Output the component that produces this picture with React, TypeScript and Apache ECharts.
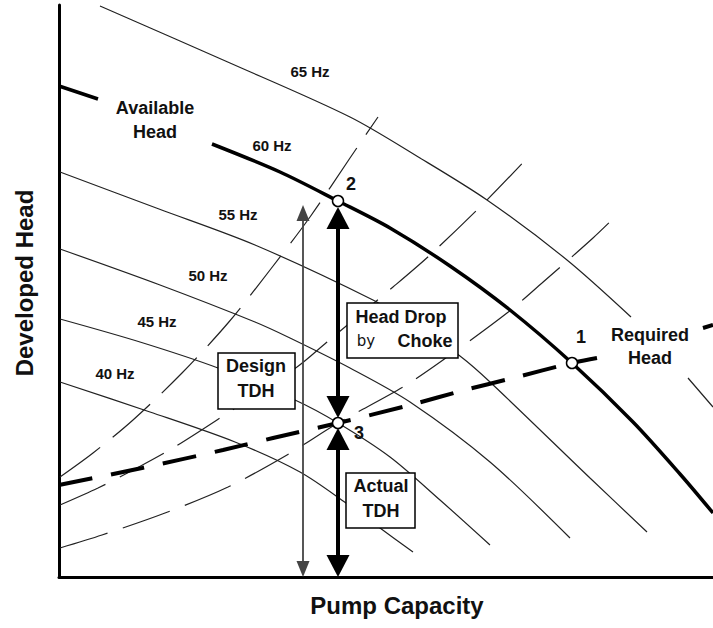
import { useEffect, useRef } from "react";
import * as echarts from "echarts";

// Pump capacity (x) and developed head (y) in arbitrary chart units
const hz65: (number | null)[][] = [[41, 571], [171, 514], [291, 460], [361, 419], [428, 377], [508, 317], [572, 260], [600, null], [629, 199], [654, 170]];
const hz60: (number | null)[][] = [[0, 491], [39, 478], [96, null], [153, 433], [221, 405], [279, 376], [331, 349], [391, 311], [451, 267], [513, 214], [574, 155], [621, 103], [654, 64]];
const hz55 = [[1, 405], [100, 368], [196, 332], [314, 277], [356, 252], [401, 221], [431, 195], [531, 99], [588, 45]];
const hz50 = [[1, 328], [101, 292], [196, 255], [231, 239], [291, 209], [351, 175], [431, 115], [511, 39]];
const hz45 = [[1, 258], [81, 235], [159, 209], [236, 177], [279, 154], [331, 120], [381, 77], [431, 32]];
const hz40 = [[1, 195], [91, 165], [176, 135], [241, 105], [287, 74], [321, 49], [354, 25]];
const requiredHead: (number | null)[][] = [[0, 92], [83, 109], [164, 127], [214, 139], [279, 154], [351, 172], [406, 187], [454, 199], [513, 214], [538, 219], [590, null], [644, 249], [654, 252]];
const systemA = [[1, 100], [34, 124], [74, 157], [123, 204], [169, 254], [211, 307], [251, 360], [291, 419], [319, 460]];
const systemB = [[1, 72], [39, 89], [78, 109], [114, 129], [158, 157], [238, 210], [268, 235], [334, 290], [371, 322], [428, 377], [473, 424]];
const systemC = [[1, 29], [43, 42], [106, 64], [169, 90], [228, 122], [279, 154], [344, 190], [384, 217], [448, 264], [483, 294], [534, 339], [558, 362]];

// Operating points
const opPoints = [[279, 376], [279, 154], [513, 214]];
const opLabels = ["2", "3", "1"];

// Vertical arrows: [x, top head, bottom head]
const arrows = [[244, 372, 0], [279, 370, 159], [279, 149, 0]];

const FONT = '"Liberation Sans", Arial, Helvetica, sans-serif';

export default function App() {
  const ref = useRef<HTMLDivElement>(null);
  useEffect(() => {
    if (!ref.current) return;
    const chart = echarts.init(ref.current, undefined, { renderer: "svg" });

    const arrowStyles = [
      { color: "#444", lw: 1.8, w: 13, head: 16 },
      { color: "#000", lw: 4, w: 23, head: 22 },
      { color: "#000", lw: 4, w: 23, head: 22 },
    ];
    const labelOffsets = [[13, -17], [21, 10], [9, -26]];

    const thin = (name: string, data: any[]) => ({
      name, type: "line", data, smooth: 0.3, symbol: "none", connectNulls: false,
      lineStyle: { color: "#222", width: 1.2 }, z: 2, silent: true,
    });
    const dashed = (name: string, data: any[]) => ({
      name, type: "line", data, smooth: 0.3, symbol: "none",
      lineStyle: { color: "#222", width: 1.2, type: [50, 16] }, z: 2, silent: true,
    });

    const hzLabel = (text: string, x: number, y: number) => ({
      type: "text", x, y, z: 12,
      style: { text, font: `bold 15px ${FONT}`, fill: "#111", align: "center", verticalAlign: "middle", textAlign: "center", textVerticalAlign: "middle" },
    });
    const bigLabel = (text: string, x: number, y: number, lh: number, align = "center") => ({
      type: "text", x, y, z: 12,
      style: { text, font: `bold 18px ${FONT}`, fill: "#111", lineHeight: lh, align, verticalAlign: "middle", textAlign: align, textVerticalAlign: "middle" },
    });
    const box = (x: number, y: number, w: number, h: number) => ({
      type: "rect", z: 10, shape: { x, y, width: w, height: h },
      style: { fill: "#fff", stroke: "#000", lineWidth: 1.5 },
    });

    chart.setOption({
      animation: false,
      backgroundColor: "#fff",
      grid: { left: 59, right: 0, top: 5, bottom: 51 },
      xAxis: {
        type: "value", min: 0, max: 654,
        axisLine: { show: true, onZero: false, lineStyle: { color: "#000", width: 3 } },
        axisTick: { show: false }, axisLabel: { show: false }, splitLine: { show: false },
        name: "Pump Capacity", nameLocation: "middle", nameGap: 16,
        nameTextStyle: { fontSize: 24, fontWeight: "bold", color: "#111", fontFamily: FONT, padding: [0, 0, 0, 22] },
      },
      yAxis: {
        type: "value", min: 0, max: 572,
        axisLine: { show: true, onZero: false, lineStyle: { color: "#000", width: 3 } },
        axisTick: { show: false }, axisLabel: { show: false }, splitLine: { show: false },
        name: "Developed Head", nameLocation: "middle", nameGap: 23,
        nameTextStyle: { fontSize: 24, fontWeight: "bold", color: "#111", fontFamily: FONT, padding: [0, 0, 0, 16] },
      },
      series: [
        thin("65 Hz", hz65),
        { ...thin("60 Hz", hz60), lineStyle: { color: "#000", width: 3.5 }, z: 3 },
        thin("55 Hz", hz55),
        thin("50 Hz", hz50),
        thin("45 Hz", hz45),
        thin("40 Hz", hz40),
        dashed("System A", systemA),
        dashed("System B", systemB),
        dashed("System C", systemC),
        {
          name: "Required Head", type: "line", data: requiredHead, smooth: 0.3, symbol: "none",
          lineStyle: { color: "#000", width: 4, type: [34, 19] }, z: 3, silent: true,
        },
        {
          name: "Arrows", type: "custom", data: arrows, encode: { x: 0, y: [1, 2] }, z: 15, silent: true,
          renderItem: (params: any, api: any) => {
            const st = arrowStyles[params.dataIndex];
            const top = api.coord([api.value(0), api.value(1)]);
            const bot = api.coord([api.value(0), api.value(2)]);
            const px = top[0];
            return {
              type: "group",
              children: [
                { type: "line", shape: { x1: px, y1: top[1] + st.head * 0.8, x2: px, y2: bot[1] - st.head * 0.8 }, style: { stroke: st.color, lineWidth: st.lw } },
                { type: "polygon", shape: { points: [[px, top[1]], [px - st.w / 2, top[1] + st.head], [px + st.w / 2, top[1] + st.head]] }, style: { fill: st.color } },
                { type: "polygon", shape: { points: [[px, bot[1]], [px - st.w / 2, bot[1] - st.head], [px + st.w / 2, bot[1] - st.head]] }, style: { fill: st.color } },
              ],
            };
          },
        },
        {
          name: "Operating Points", type: "scatter", z: 20, silent: true,
          symbol: "circle", symbolSize: 11,
          itemStyle: { color: "#fff", borderColor: "#000", borderWidth: 1.5, opacity: 1 },
          data: opPoints.map((p, i) => ({
            value: p,
            label: {
              show: true, formatter: opLabels[i], position: "inside", offset: labelOffsets[i],
              fontSize: 18, fontWeight: "bold", color: "#111", fontFamily: FONT, opacity: 1,
            },
          })),
        },
      ],
      graphic: [
        hzLabel("65 Hz", 310, 71),
        hzLabel("60 Hz", 272, 145),
        hzLabel("55 Hz", 238, 214),
        hzLabel("50 Hz", 208, 275),
        hzLabel("45 Hz", 157, 321),
        hzLabel("40 Hz", 115, 373),
        bigLabel("Available\nHead", 155, 119.5, 24),
        bigLabel("Required\nHead", 650, 346, 23),
        box(218, 353, 77, 56),
        bigLabel("Design\nTDH", 256, 378, 25),
        box(347, 303, 111, 55),
        bigLabel("Head Drop", 401, 317, 20),
        bigLabel("Choke", 425, 341, 20),
        {
          type: "text", x: 366, y: 341, z: 12,
          style: { text: "by", font: `15px "DejaVu Sans", sans-serif`, fill: "#111", align: "center", verticalAlign: "middle", textAlign: "center", textVerticalAlign: "middle" },
        },
        box(346, 473, 69, 55),
        bigLabel("Actual\nTDH", 381, 498, 25),
      ],
    });
    return () => chart.dispose();
  }, []);
  return <div ref={ref} style={{ position: "absolute", left: 0, top: 0, width: 713, height: 628 }} />;
}
